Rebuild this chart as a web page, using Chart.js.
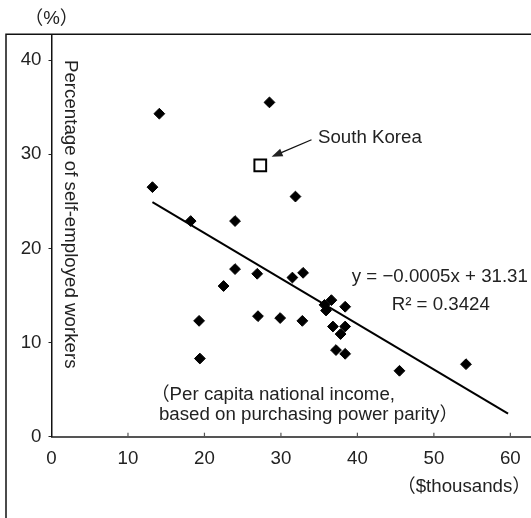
<!DOCTYPE html>
<html>
<head>
<meta charset="utf-8">
<script src="https://cdn.jsdelivr.net/npm/chart.js@4"></script>
<style>
  html, body { margin: 0; padding: 0; background: #fff; }
  canvas { display: block; }
</style>
</head>
<body>
<canvas id="chart" width="531" height="518"></canvas>
<script>
// Per capita national income (PPP, $thousands) vs. self-employed share (%)
const incomeK = [14.1, 28.5, 13.2, 31.9, 18.2, 24.0, 24.0, 26.9, 22.5, 31.5, 32.9, 19.3, 27.0, 29.9,
                 32.8, 19.4, 36.6, 35.7, 35.9, 38.4, 36.8, 38.4, 37.8, 37.2, 38.4, 45.5, 54.2];
const selfEmployed = [34.3, 35.5, 26.5, 25.5, 22.9, 22.9, 17.8, 17.3, 16.0, 16.9, 17.4, 12.3, 12.8, 12.6,
                      12.3, 8.3, 14.5, 14.0, 13.4, 13.8, 11.7, 11.7, 10.9, 9.2, 8.8, 7.0, 7.7];
const koreaIncome = [27.3];
const koreaSelfEmployed = [28.8];
// fitted line y = -0.0005x + 31.31, end points
const trendX = [13.2, 59.7];
const trendY = [24.9, 2.45];
const xTicks = [0, 10, 20, 30, 40, 50, 60];
const yTicks = [0, 10, 20, 30, 40];

const FONT = "'Liberation Sans', 'Noto Sans CJK JP', sans-serif";
const TEXT = '#222';
Chart.defaults.font.family = FONT;
Chart.defaults.font.size = 18.7;
Chart.defaults.color = TEXT;

const zip = (xs, ys) => xs.map((x, i) => ({ x, y: ys[i] }));

const extras = {
  id: 'extras',
  afterDraw(chart) {
    const { ctx, chartArea: a, scales: { x, y } } = chart;
    const px = v => x.getPixelForValue(v);
    const py = v => y.getPixelForValue(v);
    ctx.save();

    // outer frame (top and left edges)
    ctx.strokeStyle = '#111';
    ctx.lineWidth = 1.5;
    ctx.beginPath();
    ctx.moveTo(chart.width, a.top);
    ctx.lineTo(6, a.top);
    ctx.lineTo(6, chart.height);
    ctx.stroke();

    // inward x ticks
    ctx.strokeStyle = '#555';
    ctx.lineWidth = 1.2;
    xTicks.slice(1).forEach(v => {
      ctx.beginPath();
      ctx.moveTo(px(v), a.bottom);
      ctx.lineTo(px(v), a.bottom - 4);
      ctx.stroke();
    });

    ctx.fillStyle = TEXT;
    ctx.font = '18.7px ' + FONT;

    // y title, vertical inside the plot
    ctx.save();
    ctx.translate(65, py(40));
    ctx.rotate(Math.PI / 2);
    ctx.textAlign = 'left';
    ctx.textBaseline = 'alphabetic';
    ctx.fillText('Percentage of self-employed workers', 0, 0);
    ctx.restore();

    ctx.textBaseline = 'middle';
    ctx.textAlign = 'center';
    ctx.fillText('（%）', a.left, 19);

    ctx.textAlign = 'right';
    ctx.fillText('（$thousands）', chart.width, 487);

    // South Korea label + arrow
    ctx.textAlign = 'left';
    ctx.fillText('South Korea', px(34.84), py(31.71));
    const sx = px(34.0), sy = py(31.53), tx = px(28.78), ty = py(29.72);
    const ang = Math.atan2(ty - sy, tx - sx);
    ctx.strokeStyle = '#111';
    ctx.lineWidth = 1.3;
    ctx.beginPath();
    ctx.moveTo(sx, sy);
    ctx.lineTo(tx - 8 * Math.cos(ang), ty - 8 * Math.sin(ang));
    ctx.stroke();
    ctx.beginPath();
    ctx.moveTo(tx, ty);
    ctx.lineTo(tx - 11 * Math.cos(ang) + 4 * Math.sin(ang), ty - 11 * Math.sin(ang) - 4 * Math.cos(ang));
    ctx.lineTo(tx - 11 * Math.cos(ang) - 4 * Math.sin(ang), ty - 11 * Math.sin(ang) + 4 * Math.cos(ang));
    ctx.closePath();
    ctx.fill();

    // regression equation
    ctx.textAlign = 'center';
    ctx.fillText('y = −0.0005x + 31.31', px(50.78), py(16.95));
    ctx.fillText('R² = 0.3424', px(50.9), py(13.98));

    // x description
    ctx.textAlign = 'left';
    ctx.fillText('（Per capita national income,', px(13.0), py(4.43));
    ctx.fillText('based on purchasing power parity）', px(14.05), py(2.30));

    ctx.restore();
  }
};

new Chart(document.getElementById('chart'), {
  type: 'scatter',
  data: {
    datasets: [
      {
        label: 'Countries',
        data: zip(incomeK, selfEmployed),
        pointStyle: 'rectRot',
        pointRadius: 5.4,
        pointBackgroundColor: '#000',
        pointBorderColor: '#000',
        pointBorderWidth: 1
      },
      {
        label: 'South Korea',
        data: zip(koreaIncome, koreaSelfEmployed),
        pointStyle: 'rect',
        pointRadius: 8.3,
        pointBackgroundColor: '#fff',
        pointBorderColor: '#000',
        pointBorderWidth: 2
      },
      {
        type: 'line',
        label: 'Trend',
        data: zip(trendX, trendY),
        borderColor: '#000',
        borderWidth: 2,
        pointRadius: 0,
        fill: false
      }
    ]
  },
  options: {
    responsive: false,
    animation: false,
    devicePixelRatio: 1,
    layout: { autoPadding: false, padding: { top: 34.3, left: 0, right: 0, bottom: 0 } },
    plugins: { legend: { display: false }, tooltip: { enabled: false } },
    scales: {
      x: {
        type: 'linear',
        min: 0,
        max: 62.7,
        afterBuildTicks: s => { s.ticks = xTicks.map(v => ({ value: v })); },
        afterFit: s => { s.height = 81.3; s.paddingLeft = 0; s.paddingRight = 0; },
        grid: { display: false, drawTicks: false },
        border: { display: true, color: '#555', width: 2 },
        ticks: { padding: 11, color: TEXT, maxRotation: 0 }
      },
      y: {
        type: 'linear',
        min: 0,
        max: 42.73,
        afterBuildTicks: s => { s.ticks = yTicks.map(v => ({ value: v })); },
        afterFit: s => { s.width = 51.5; s.paddingTop = 0; s.paddingBottom = 0; },
        grid: { drawOnChartArea: false, drawTicks: true, tickLength: 3, color: '#222' },
        border: { display: true, color: '#111', width: 1.5 },
        ticks: { padding: 7, color: TEXT }
      }
    }
  },
  plugins: [extras]
});
</script>
</body>
</html>
